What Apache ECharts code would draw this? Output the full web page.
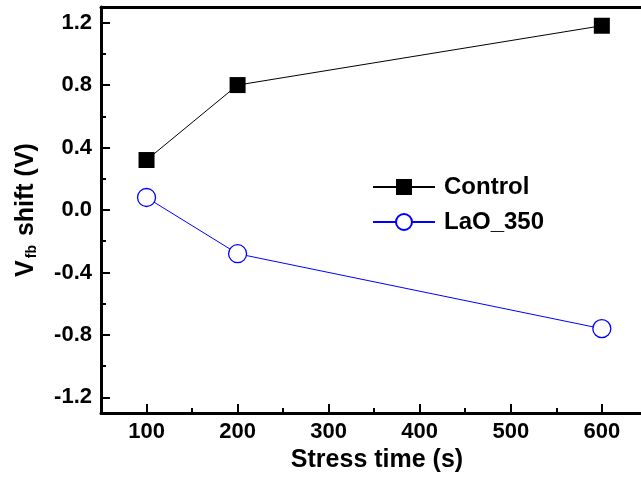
<!DOCTYPE html>
<html>
<head>
<meta charset="utf-8">
<script src="https://cdn.jsdelivr.net/npm/echarts@6/dist/echarts.min.js"></script>
<style>
html, body { margin: 0; padding: 0; background: #fff; }
#chart { width: 641px; height: 483px; }
</style>
</head>
<body>
<div id="chart"></div>
<script>
var stressTime = [100, 200, 600];
var controlShift = [0.32, 0.80, 1.18];
var laoShift = [0.08, -0.28, -0.76];
var xMajorTicks = [100, 200, 300, 400, 500, 600];
var xMinorTicks = [150, 250, 350, 450, 550];
var yMajorTicks = [-1.2, -0.8, -0.4, 0, 0.4, 0.8, 1.2];
var yMinorTicks = [-1.0, -0.6, -0.2, 0.2, 0.6, 1.0];

var font = 'Liberation Sans, Arial, sans-serif';
var dom = document.getElementById('chart');
var myChart = echarts.init(dom);

function pairs(xs, ys) {
	var out = [];
	for (var i = 0; i < xs.length; i++) {
		out.push([xs[i], ys[i]]);
	}
	return out;
}

// the plot box runs past the right edge of the picture, so no right border
var xMin = 50, xMax = 643;

var option = {
	backgroundColor: '#fff',
	animation: false,
	grid: { left: 101, top: 7, right: 0, bottom: 70 },
	legend: {
		orient: 'vertical',
		left: 367, top: 170,
		itemWidth: 62, itemHeight: 20, itemGap: 11,
		textStyle: { fontFamily: font, fontWeight: 'bold', fontSize: 24, color: '#000', padding: [0, 0, 0, 4] },
		data: ['Control', 'LaO_350']
	},
	xAxis: [{
		type: 'value', min: xMin, max: xMax,
		name: 'Stress time (s)', nameLocation: 'middle', nameGap: 31,
		nameTextStyle: { fontFamily: font, fontWeight: 'bold', fontSize: 25, color: '#000', padding: [0, 0, 0, 12] },
		axisLine: { onZero: false, lineStyle: { color: '#000', width: 3 } },
		axisTick: { inside: true, length: 9, lineStyle: { color: '#000', width: 2 }, customValues: xMajorTicks },
		axisLabel: { fontFamily: font, fontWeight: 'bold', fontSize: 22, color: '#000', margin: 8, customValues: xMajorTicks },
		splitLine: { show: false }
	}, {
		type: 'value', min: xMin, max: xMax, position: 'bottom',
		axisLine: { show: false, onZero: false },
		axisTick: { inside: true, length: 5, lineStyle: { color: '#000', width: 2 }, customValues: xMinorTicks },
		axisLabel: { show: false },
		splitLine: { show: false }
	}, {
		type: 'value', min: xMin, max: xMax, position: 'top',
		axisLine: { onZero: false, lineStyle: { color: '#000', width: 3 } },
		axisTick: { show: false },
		axisLabel: { show: false },
		splitLine: { show: false }
	}],
	yAxis: [{
		type: 'value', min: -1.3, max: 1.3,
		name: '{v|V}{s|fb}{v| shift (V)}', nameLocation: 'middle', nameGap: 62,
		nameTextStyle: {
			rich: {
				v: { fontFamily: font, fontWeight: 'bold', fontSize: 25, color: '#000' },
				s: { fontFamily: font, fontWeight: 'bold', fontSize: 14, color: '#000', verticalAlign: 'bottom', padding: [10, 2, 0, 2] }
			}
		},
		axisLine: { onZero: false, lineStyle: { color: '#000', width: 3 } },
		axisTick: { inside: true, length: 9, lineStyle: { color: '#000', width: 2 }, customValues: yMajorTicks },
		axisLabel: {
			fontFamily: font, fontWeight: 'bold', fontSize: 22, color: '#000', margin: 9,
			customValues: yMajorTicks,
			formatter: function (v) { return v.toFixed(1); }
		},
		splitLine: { show: false }
	}, {
		type: 'value', min: -1.3, max: 1.3, position: 'left',
		axisLine: { show: false, onZero: false },
		axisTick: { inside: true, length: 5, lineStyle: { color: '#000', width: 2 }, customValues: yMinorTicks },
		axisLabel: { show: false },
		splitLine: { show: false }
	}],
	series: [{
		name: 'Control', type: 'line',
		data: pairs(stressTime, controlShift),
		symbol: 'rect', symbolSize: 16,
		lineStyle: { color: '#000', width: 1 },
		itemStyle: { color: '#000', borderColor: '#000', borderWidth: 0 }
	}, {
		name: 'LaO_350', type: 'line',
		data: pairs(stressTime, laoShift),
		symbol: 'circle', symbolSize: 18,
		lineStyle: { color: '#0000ff', width: 1 },
		itemStyle: { color: '#fff', borderColor: '#0000ff', borderWidth: 1.3 }
	}]
};
myChart.setOption(option, true);
</script>
</body>
</html>
